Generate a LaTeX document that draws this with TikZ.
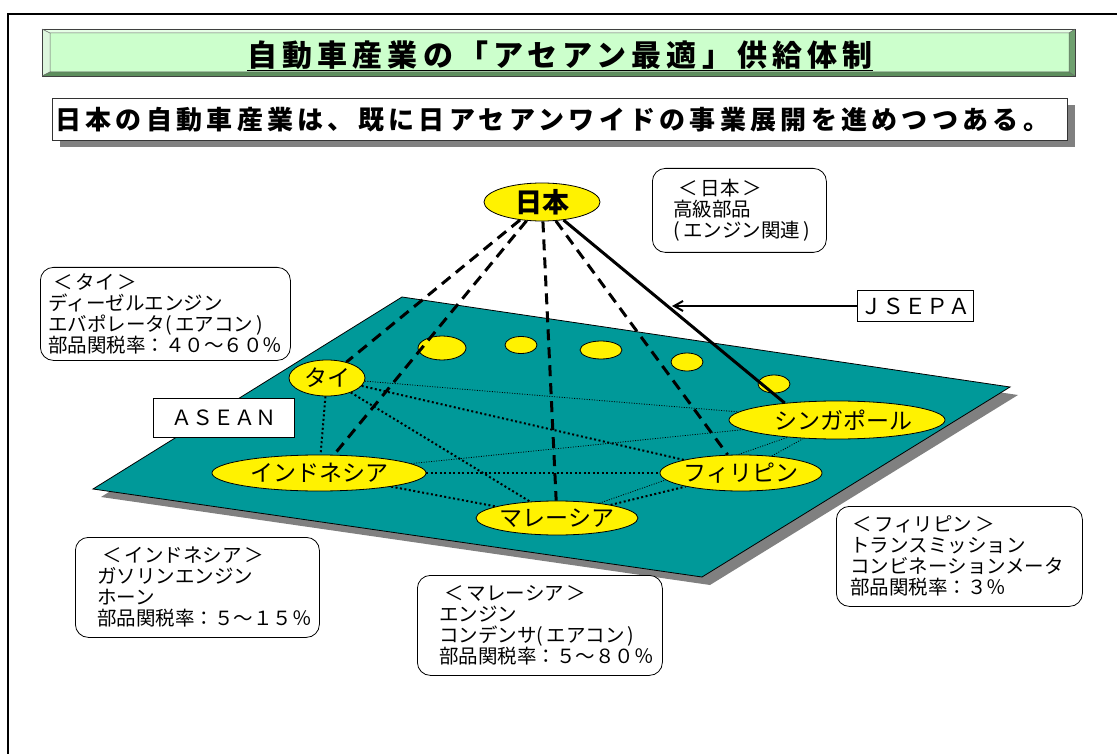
\documentclass[tikz,border=0pt]{standalone}
\usepackage{fontspec}
\setmainfont{Noto Sans CJK JP}
\usetikzlibrary{shapes.geometric,arrows.meta,shadows}
\definecolor{plane}{HTML}{009999}
\definecolor{mint}{HTML}{CCFFCC}
\definecolor{bevtop}{HTML}{E6FFE6}
\definecolor{bevleft}{HTML}{DDF6DD}
\definecolor{bevbot}{HTML}{5E8F5E}
\definecolor{bevright}{HTML}{6FA06F}
\definecolor{shadowgray}{HTML}{808080}
\pgfdeclarelayer{back}
\pgfdeclarelayer{mid}
\pgfsetlayers{back,mid,main}
\begin{document}
\begin{tikzpicture}[x=1pt,y=-1pt,
  country/.style={ellipse, draw=black, line width=0.8pt, fill=yellow, inner sep=0pt,
    font=\fontsize{23}{25}\selectfont},
  spot/.style={ellipse, draw=black, line width=0.8pt, fill=yellow, inner sep=0pt},
  infobox/.style={draw=black, line width=0.8pt, fill=white, rounded corners=13pt,
    align=left, anchor=north west, inner ysep=0pt, font=\fontsize{19.5}{21}\selectfont},
  heavydash/.style={line width=3pt, dash pattern=on 11pt off 7pt},
  thickdot/.style={line width=2pt, dash pattern=on 2pt off 2.5pt},
  thindot/.style={line width=0.8pt, dash pattern=on 1pt off 1.5pt},
  labelbox/.style={draw=black, line width=0.8pt, fill=white, inner sep=0pt}
]
\useasboundingbox (0,0) rectangle (1117,754);
% outer frame
\draw[line width=2pt] (8,754) -- (8,14) -- (1117,14);
% title bar (bevelled)
\fill[mint] (50,33) rectangle (1069,72);
\fill[bevtop] (42,29) -- (1075,29) -- (1069,33) -- (50,33) -- cycle;
\fill[bevleft] (42,29) -- (50,33) -- (50,72) -- (42,76) -- cycle;
\fill[bevbot] (42,76) -- (50,72) -- (1069,72) -- (1075,76) -- cycle;
\fill[bevright] (1075,29) -- (1075,76) -- (1069,72) -- (1069,33) -- cycle;
\draw[line width=0.8pt, black!75] (42,29) rectangle (1075,76);
\draw[line width=0.5pt, black!60] (50,33) rectangle (1069,72)
  (42,29) -- (50,33) (42,76) -- (50,72) (1075,29) -- (1069,33) (1075,76) -- (1069,72);
\node[anchor=base, inner sep=0pt,
  font={\bfseries\fontsize{30}{34}\selectfont\addfontfeature{LetterSpace=17}}] (title) at (560,67)
  {自動車産業の「アセアン最適」供給体制};
\draw[line width=1.8pt] ([yshift=-3.5pt]title.base west) -- ([yshift=-3.5pt]title.base east);
% subtitle
\node[draw=black!80, line width=0.8pt, fill=white, anchor=north west,
  minimum height=42pt, inner xsep=3pt, inner ysep=0pt, text width=1009pt, align=left,
  drop shadow={shadow xshift=8pt, shadow yshift=-7pt, fill=shadowgray, opacity=1},
  font={\bfseries\fontsize{26}{28}\selectfont\addfontfeature{LetterSpace=16.5}}] (sub) at (52,98)
  {日本の自動車産業は、既に日アセアンワイドの事業展開を進めつつある。};
% plane
\begin{pgfonlayer}{back}
\fill[shadowgray] (101,497) -- (410,305) -- (1018,395) -- (710,585) -- cycle;
\filldraw[fill=plane, draw=black, line width=0.8pt] (93,489) -- (402,297) -- (1010,387) -- (702,577) -- cycle;
\node[spot, minimum width=48pt, minimum height=24pt] (s1) at (442,348) {};
\node[spot, minimum width=32pt, minimum height=17pt] (s2) at (521,345) {};
\node[spot, minimum width=42pt, minimum height=18pt] (s3) at (601,350) {};
\node[spot, minimum width=32pt, minimum height=18pt] (s4) at (687,362) {};
\node[spot, minimum width=32pt, minimum height=18pt] (s5) at (774,384) {};
\end{pgfonlayer}
% countries
\node[country, minimum width=116pt, minimum height=38pt,
  font={\bfseries\fontsize{27}{29}\selectfont}] (japan) at (542,202) {日本};
\node[country, minimum width=76pt, minimum height=36pt] (thai) at (327,378) {タイ};
\node[country, minimum width=214pt, minimum height=36pt] (indo) at (319,473) {インドネシア};
\node[country, minimum width=160pt, minimum height=34pt] (malay) at (557,518) {マレーシア};
\node[country, minimum width=158pt, minimum height=36pt] (phil) at (741,473) {フィリピン};
\node[country, minimum width=216pt, minimum height=38pt] (sing) at (837,420) {\hspace{12pt}シンガポール};
% connectors
\begin{pgfonlayer}{mid}
\draw[thickdot] (thai) -- (indo);
\draw[thickdot] (thai) -- (malay);
\draw[thickdot] (thai) -- (phil);
\draw[thickdot] (indo) -- (malay);
\draw[thickdot] (indo) -- (phil);
\draw[thickdot] (malay) -- (phil);
\draw[thindot] (thai) -- (sing);
\draw[thindot] (indo) -- (sing);
\draw[thindot] (malay) -- (sing);
\draw[thindot] (phil) -- (sing);
\draw[heavydash] (japan) -- (thai);
\draw[heavydash] (japan) -- (indo);
\draw[heavydash] (japan) -- (malay);
\draw[heavydash] (japan) -- (phil);
\draw[line width=3pt] (japan.320) -- (sing.162);
\end{pgfonlayer}
% labels
\node[labelbox, minimum width=141pt, minimum height=39pt, font=\fontsize{21}{23}\selectfont]
  (asean) at (223.5,417.5) {ＡＳＥＡＮ};
\node[labelbox, minimum width=116pt, minimum height=31pt, font=\fontsize{22}{24}\selectfont]
  (jsepa) at (915,306) {ＪＳＥＰＡ};
\coordinate (jtip) at (672,306);
\draw[line width=2pt, -{Straight Barb[length=9pt,width=10pt]}] (jsepa.west) -- (jtip);
% info boxes
\node[infobox, minimum width=174pt, minimum height=84pt, inner xsep=21pt, text width=132pt]
  (jpbox) at (652,168) {\hspace{5pt}＜\hspace{3pt}日本\hspace{3pt}＞\\高級部品\\(\,エンジン関連\,)};
\node[infobox, minimum width=250pt, minimum height=93pt, inner xsep=8pt, text width=234pt]
  (thbox) at (40,267) {\hspace{5pt}＜\hspace{3pt}タイ\hspace{3pt}＞\\ディーゼルエンジン\\エバポレータ(\,エアコン\,)\\部品関税率：４０～６０％};
\node[infobox, minimum width=244pt, minimum height=100pt, inner xsep=22pt, text width=200pt]
  (idbox) at (75,537) {\hspace{5pt}＜\hspace{3pt}インドネシア\hspace{3pt}＞\\ガソリンエンジン\\ホーン\\部品関税率：５～１５％};
\node[infobox, minimum width=245pt, minimum height=100pt, inner xsep=22pt, text width=201pt]
  (mybox) at (417,575) {\hspace{5pt}＜\hspace{3pt}マレーシア\hspace{3pt}＞\\エンジン\\コンデンサ(\,エアコン\,)\\部品関税率：５～８０％};
\node[infobox, minimum width=246pt, minimum height=100pt, inner xsep=14pt, text width=218pt]
  (phbox) at (836,506) {\hspace{2pt}＜\hspace{3pt}フィリピン\hspace{3pt}＞\\トランスミッション\\コンビネーションメータ\\部品関税率：３％};
\end{tikzpicture}
\end{document}
